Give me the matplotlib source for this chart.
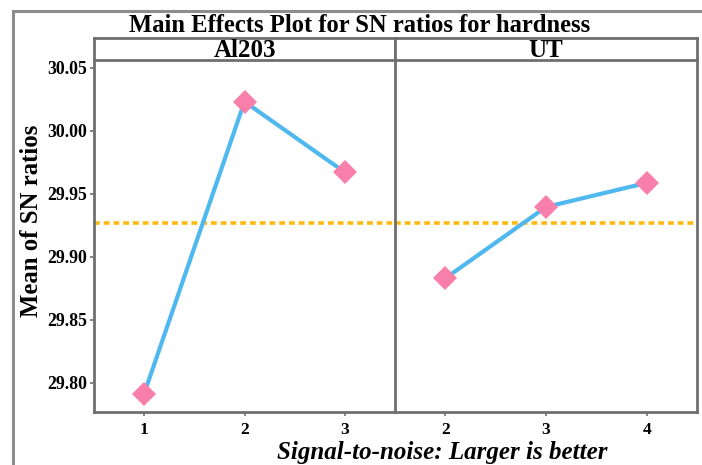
import matplotlib
matplotlib.use("Agg")
import matplotlib.pyplot as plt
from matplotlib.patches import Rectangle

# SN ratio means for each factor level
AL_LEVELS = [1, 2, 3]
AL_SN = [29.7916, 30.023, 29.967]
UT_LEVELS = [2, 3, 4]
UT_SN = [29.883, 29.9395, 29.9586]
OVERALL_MEAN = 29.927
YTICKS = [29.80, 29.85, 29.90, 29.95, 30.00, 30.05]

LINE_COLOR = "#4FB9EF"
MARKER_COLOR = "#F97FAB"
MEAN_COLOR = "#FFBA12"
FRAME_COLOR = "#6F6F6F"

plt.rcParams["font.family"] = ["Liberation Serif", "DejaVu Serif"]
plt.rcParams["font.weight"] = "bold"

W, H = 702, 465
fig = plt.figure(figsize=(W / 100, H / 100), dpi=100)

def px_box(x0, y0, x1, y1):
	# pixel box (top-left origin) -> figure fraction rect
	return [x0 / W, 1 - y1 / H, (x1 - x0) / W, (y1 - y0) / H]

# outer border running off the right and bottom edges
fig.patches.append(Rectangle((13 / W, -0.1), 1.2, 1 - 11 / H + 0.1, transform=fig.transFigure,
	fill=False, edgecolor="#8C8C8C", linewidth=2.2))

ax1 = fig.add_axes(px_box(94, 60, 395, 412))
ax2 = fig.add_axes(px_box(395, 60, 697, 412), sharey=ax1)

panels = [(ax1, AL_LEVELS, AL_SN, (0.5, 3.5), "Al203"), (ax2, UT_LEVELS, UT_SN, (1.5, 4.5), "UT")]

for ax, lv, sn, xl, name in panels:
	ax.axhline(OVERALL_MEAN, color=MEAN_COLOR, linewidth=2.6, linestyle=(0, (1.6, 1.1)), zorder=1)
	ax.plot(lv, sn, color=LINE_COLOR, linewidth=3, zorder=2)
	ax.plot(lv, sn, "D", color=MARKER_COLOR, markersize=12.5, markeredgewidth=0, zorder=3)
	ax.set_xlim(*xl)
	ax.set_xticks(lv)
	ax.set_xticklabels([str(v) for v in lv], fontsize=12.5, fontweight="bold")
	for s in ax.spines.values():
		s.set_color(FRAME_COLOR)
		s.set_linewidth(2)
	ax.spines["top"].set_visible(False)
	ax.tick_params(axis="x", length=3, width=1.2, color=FRAME_COLOR, pad=4)

	# strip header above each panel
	x0 = ax.get_position().x0 * W
	x1 = ax.get_position().x1 * W
	sax = fig.add_axes(px_box(x0, 38, x1, 60))
	sax.set_xticks([])
	sax.set_yticks([])
	for s in sax.spines.values():
		s.set_color(FRAME_COLOR)
		s.set_linewidth(2)
	sax.text(0.5, 0.45, name, ha="center", va="center", fontsize=18, fontweight="bold",
		transform=sax.transAxes)

ax1.set_ylim(29.777, 30.056)
ax1.set_yticks(YTICKS)
ax1.set_yticklabels(["%.2f" % v for v in YTICKS], fontsize=12.8, fontweight="bold")
ax1.tick_params(axis="y", length=3, width=1.2, color=FRAME_COLOR, pad=2)
ax1.spines["right"].set_visible(False)
ax2.tick_params(axis="y", left=False, labelleft=False)

fig.text(360 / W, 1 - 25 / H, "Main Effects Plot for SN ratios for hardness", ha="center", va="center",
	fontsize=17.7, fontweight="bold")
fig.text(32 / W, 1 - 221 / H, "Mean of SN ratios", ha="center", va="center", rotation=90,
	fontsize=17.8, fontweight="bold")
fig.text(442 / W, 1 - 452 / H, "Signal-to-noise: Larger is better", ha="center", va="center",
	fontsize=18, fontweight="bold", style="italic")

fig.savefig("out.png", dpi=100)
